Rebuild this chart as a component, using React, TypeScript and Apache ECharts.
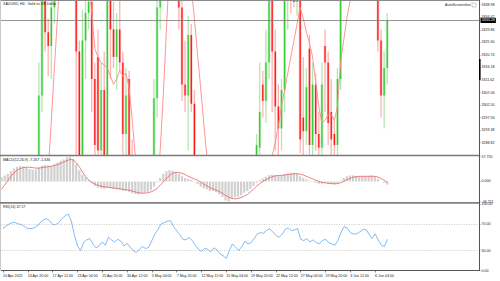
import React, { useEffect, useRef } from 'react';
import * as echarts from 'echarts';

// ---- tick labels ----
const tickLabels = [
  '10 Apr 2025', '14 Apr 20:00', '17 Apr 12:00', '23 Apr 04:00', '25 Apr 20:00', '30 Apr 12:00',
  '5 May 04:00', '7 May 20:00', '12 May 12:00', '15 May 04:00', '19 May 20:00', '22 May 12:00',
  '27 May 04:00', '29 May 20:00', '3 Jun 12:00', '6 Jun 04:00',
];
const priceTicks = [3338.98, 3334.42, 3329.86, 3325.30, 3320.74, 3316.18, 3311.62, 3307.06, 3302.50, 3297.94, 3293.38, 3288.82];
const macdTicks = [57.755, 0, -46.211];
const rsiTicks = [100, 70, 30, 0];
const rsiLevels = [70, 30];
const currentPrice = 3333.28;

// ---- price series (one bar per slot) ----
const opens = [
  3085, 3115, 3150, 3175, 3195, 3218, 3236, 3220, 3210, 3215, 3212, 3228, 3255, 3306, 3345, 3329, 3324, 3338, 3356, 3362,
  3378, 3372, 3424, 3485, 3400, 3322, 3268, 3326, 3336, 3340, 3312, 3320, 3286, 3308, 3282, 3343, 3330, 3320, 3330, 3318,
  3292, 3312, 3280, 3250, 3215, 3232, 3256, 3236, 3240, 3266, 3305, 3338, 3362, 3392, 3414, 3428, 3402, 3375, 3338, 3310,
  3306, 3328, 3303, 3272, 3248, 3232, 3250, 3248, 3218, 3245, 3236, 3192, 3178, 3140, 3200, 3240, 3218, 3180, 3200, 3240,
  3225, 3230, 3255, 3287, 3310, 3304, 3318, 3345, 3322, 3302, 3294, 3308, 3342, 3355, 3350, 3340, 3352, 3298, 3293, 3323,
  3288, 3310, 3292, 3287, 3324, 3318, 3300, 3292, 3288, 3312, 3355, 3378, 3382, 3358, 3352, 3362, 3356, 3378, 3372, 3390,
  3398, 3356, 3326, 3306, 3316,
];
const highs = [
  3120, 3160, 3180, 3200, 3222, 3240, 3245, 3232, 3225, 3232, 3235, 3262, 3318, 3352, 3358, 3334, 3346, 3362, 3370, 3385,
  3392, 3430, 3500, 3495, 3405, 3326, 3337, 3350, 3368, 3367, 3318, 3330, 3318, 3322, 3350, 3352, 3340, 3336, 3341, 3322,
  3316, 3315, 3290, 3262, 3240, 3262, 3262, 3248, 3272, 3312, 3345, 3368, 3400, 3420, 3438, 3435, 3418, 3385, 3345, 3326,
  3335, 3332, 3308, 3280, 3262, 3258, 3265, 3252, 3250, 3262, 3240, 3205, 3190, 3210, 3245, 3252, 3228, 3205, 3250, 3252,
  3240, 3262, 3292, 3318, 3315, 3330, 3348, 3348, 3330, 3310, 3312, 3350, 3360, 3366, 3362, 3360, 3355, 3320, 3316, 3328,
  3318, 3314, 3300, 3318, 3330, 3322, 3312, 3298, 3316, 3362, 3385, 3392, 3390, 3370, 3368, 3378, 3385, 3384, 3395, 3404,
  3400, 3365, 3330, 3322, 3336,
];
const lows = [
  3075, 3105, 3140, 3165, 3190, 3208, 3212, 3195, 3200, 3205, 3208, 3225, 3250, 3300, 3322, 3313, 3312, 3332, 3345, 3350,
  3360, 3368, 3418, 3390, 3262, 3258, 3262, 3312, 3330, 3300, 3276, 3268, 3280, 3270, 3276, 3312, 3316, 3308, 3315, 3278,
  3284, 3268, 3240, 3205, 3202, 3226, 3228, 3222, 3236, 3260, 3298, 3330, 3355, 3385, 3400, 3395, 3368, 3330, 3304, 3300,
  3286, 3300, 3262, 3240, 3226, 3228, 3240, 3210, 3212, 3230, 3185, 3172, 3120, 3135, 3195, 3210, 3170, 3172, 3195, 3215,
  3205, 3225, 3248, 3280, 3298, 3296, 3312, 3300, 3286, 3284, 3286, 3300, 3330, 3336, 3338, 3335, 3285, 3280, 3288, 3282,
  3284, 3286, 3280, 3282, 3300, 3288, 3284, 3282, 3280, 3308, 3350, 3365, 3350, 3345, 3342, 3350, 3352, 3360, 3365, 3380,
  3350, 3322, 3298, 3294, 3310,
];
const closes = [
  3115, 3150, 3175, 3195, 3218, 3236, 3220, 3210, 3215, 3212, 3228, 3255, 3306, 3345, 3329, 3324, 3338, 3356, 3362, 3378,
  3372, 3424, 3485, 3400, 3322, 3268, 3326, 3336, 3340, 3312, 3288, 3286, 3308, 3282, 3343, 3330, 3320, 3330, 3318, 3292,
  3306, 3280, 3250, 3215, 3232, 3256, 3236, 3240, 3266, 3305, 3338, 3362, 3392, 3414, 3428, 3402, 3375, 3338, 3310, 3306,
  3328, 3303, 3272, 3248, 3232, 3250, 3248, 3218, 3245, 3236, 3192, 3178, 3140, 3200, 3240, 3218, 3180, 3200, 3240, 3225,
  3230, 3255, 3288, 3300, 3304, 3318, 3345, 3322, 3302, 3294, 3308, 3342, 3355, 3348, 3340, 3352, 3290, 3293, 3309, 3288,
  3310, 3292, 3287, 3310, 3318, 3296, 3290, 3288, 3312, 3355, 3378, 3382, 3358, 3352, 3362, 3356, 3378, 3372, 3390, 3398,
  3356, 3326, 3306, 3316, 3333.28,
];
const movingAvg = [
  3040, 3060, 3085, 3110, 3135, 3158, 3178, 3192, 3202, 3209, 3214, 3220, 3232, 3246, 3260, 3278, 3297, 3316, 3335, 3353,
  3368, 3385, 3405, 3420, 3418, 3404, 3388, 3368, 3350, 3336, 3323, 3320, 3318, 3317, 3316, 3313, 3310, 3312, 3315, 3313,
  3314, 3309, 3297, 3284, 3270, 3258, 3250, 3246, 3248, 3258, 3272, 3286, 3306, 3330, 3352, 3370, 3382, 3385, 3380, 3368,
  3356, 3345, 3334, 3321, 3309, 3296, 3284, 3272, 3262, 3250, 3238, 3228, 3218, 3210, 3205, 3200, 3198, 3200, 3205, 3212,
  3222, 3234, 3246, 3257, 3266, 3273, 3279, 3284, 3289, 3295, 3302, 3308, 3314, 3320, 3326, 3332, 3338, 3334, 3329, 3325,
  3320, 3311, 3302, 3296, 3297, 3299, 3299, 3297, 3302, 3318, 3326, 3334, 3340, 3346, 3352, 3357, 3360, 3362, 3360, 3356,
  3352, 3348, 3345, 3343, 3342,
];

// ---- MACD(12,26,9) ----
const macdMain = [
  10, 14, 18, 24, 30, 34, 36, 35, 32, 29, 27, 28, 32, 37, 38, 37, 36, 40, 44, 48,
  51, 56, 57.755, 52, 40, 26, 16, 10, 3, -4, -10, -14, -16, -17, -15, -16, -18, -18, -19, -21,
  -22, -24, -27, -29, -30, -28, -26, -24, -20, -12, -2, 8, 18, 24, 26, 25, 22, 18, 12, 8,
  6, 4, 0, -6, -12, -16, -18, -22, -22, -25, -30, -36, -44, -46.211, -40, -36, -35, -32, -26, -22,
  -17, -10, -3, 3, 7, 11, 15, 16, 15, 14, 14, 17, 19, 20, 20, 18, 12, 8, 5, 2,
  -1, -3, -5, -5, -4, -5, -6, -7, -5, 2, 8, 12, 14, 14, 13, 12, 12, 12, 13, 14,
  11, 6, 0, -3, -7.267,
];
const macdSignal = [
  -18, -8, 2, 12, 20, 26, 30, 32, 33, 33, 32, 31, 31, 32, 33, 34, 35, 37, 39, 42,
  45, 48, 51, 50, 44, 34, 22, 12, 4, -2, -6, -9, -11, -12, -13, -14, -15, -16, -17, -18,
  -19, -20, -22, -24, -26, -27, -27, -26, -24, -21, -16, -9, -1, 7, 14, 19, 21, 21, 19, 16,
  12, 9, 6, 3, -1, -6, -10, -14, -17, -20, -23, -27, -32, -36, -39, -40, -39, -37, -34, -30,
  -24, -18, -11, -5, 0, 4, 8, 11, 13, 14, 14, 15, 16, 17, 18, 18, 17, 15, 12, 9,
  6, 3, 0, -2, -3, -4, -5, -5, -5, -3, 0, 4, 7, 10, 11, 12, 12, 12, 12, 12,
  12, 10, 7, 3, -1.636,
];

// ---- RSI(14) ----
const rsiValues = [
  63, 67, 70, 72, 72, 70, 69, 66, 63, 63, 64, 67, 72, 76, 78, 75, 69, 69, 72, 78,
  82, 85, 75, 54, 37, 30, 42, 46, 48, 40, 34, 37, 43, 38, 50, 46, 43, 47, 44, 37,
  41, 35, 30, 27, 32, 36, 33, 35, 45, 55, 62, 70, 72, 74, 75, 66, 60, 54, 47, 46,
  50, 45, 38, 32, 29, 33, 32, 28, 34, 31, 25, 22, 18, 30, 40, 35, 30, 36, 44, 40,
  42, 48, 55, 57, 56, 60, 63, 58, 53, 50, 54, 62, 64, 60, 61, 63, 47, 45, 48, 43,
  46, 42, 40, 45, 47, 42, 40, 38, 45, 57, 66, 64, 57, 55, 55, 58, 61, 62, 55, 48,
  55, 46, 38, 36, 47.17,
];

const SLOTS = 154;
const LABEL_EVERY = 8;
const FONT = 'Liberation Sans, Arial, sans-serif';
const FS = 3.6;
const TXT = '#1a1a1a';

const tickInterval = (idx: number) => idx % LABEL_EVERY === 0 && idx / LABEL_EVERY < tickLabels.length;

const renderCandle = (_params: any, api: any) => {
  const idx = api.value(0);
  const o = api.value(1);
  const c = api.value(2);
  const l = api.value(3);
  const h = api.value(4);
  const pO = api.coord([idx, o]);
  const pC = api.coord([idx, c]);
  const pL = api.coord([idx, l]);
  const pH = api.coord([idx, h]);
  const up = c >= o;
  const x = pO[0];
  const top = Math.min(pO[1], pC[1]);
  const hgt = Math.max(0.8, Math.abs(pO[1] - pC[1]));
  return {
    type: 'group',
    children: [
      { type: 'line', shape: { x1: x, y1: pH[1], x2: x, y2: pL[1] }, style: { stroke: up ? '#b2e7b2' : '#ffb2b2', lineWidth: 1.3 } },
      { type: 'rect', shape: { x: x - 1.5, y: top, width: 3, height: hgt }, style: { fill: up ? '#d2f2d2' : '#ffd4d4' } },
      { type: 'rect', shape: { x: x - 0.7, y: top, width: 1.4, height: hgt }, style: { fill: up ? '#36cc36' : '#ff1a1a' } },
    ],
  };
};

export default function App() {
  const ref = useRef<HTMLDivElement>(null);
  useEffect(() => {
    if (!ref.current) return;
    const chart = echarts.init(ref.current, null, { renderer: 'svg' });
    const slots = Array.from({ length: SLOTS }, (_, i) => String(i));
    const candleData = opens.map((o, i) => [i, o, closes[i], lows[i], highs[i]]);
    const mkY = (grid: number, min: number, max: number, ticks: number[], digits: number) => ({
      type: 'value',
      gridIndex: grid,
      position: 'right',
      min,
      max,
      axisLine: { show: false },
      axisTick: { show: true, length: 1.5, customValues: ticks, lineStyle: { color: '#555', width: 0.6 } },
      axisLabel: {
        customValues: ticks,
        formatter: (v: number) => v.toFixed(digits),
        fontSize: FS,
        fontFamily: FONT,
        color: TXT,
        margin: 2.5,
      },
      splitLine: { show: false },
    });
    const option: any = {
      animation: false,
      backgroundColor: '#ffffff',
      grid: [
        { left: 0, top: 0, width: 479, height: 155 },
        { left: 0, top: 156.5, width: 479, height: 45 },
        { left: 0, top: 204, width: 479, height: 66.5 },
      ],
      xAxis: [0, 1, 2].map((g) => ({
        type: 'category',
        gridIndex: g,
        data: slots,
        boundaryGap: true,
        axisLine: { show: g === 2, lineStyle: { color: '#555', width: 1 } },
        axisTick: { show: g === 2, alignWithLabel: true, interval: tickInterval, length: 2, lineStyle: { color: '#555', width: 0.7 } },
        axisLabel: {
          show: g === 2,
          interval: tickInterval,
          formatter: (_v: string, idx: number) => tickLabels[idx / LABEL_EVERY] ?? '',
          align: 'left',
          fontSize: FS,
          fontFamily: FONT,
          color: TXT,
          margin: 3,
        },
        splitLine: { show: false },
      })),
      yAxis: [
        mkY(0, 3284.35, 3340.69, priceTicks, 2),
        mkY(1, -46.211, 57.755, macdTicks, 3),
        mkY(2, 0, 100, rsiTicks, 2),
      ],
      series: [
        {
          type: 'custom',
          name: 'XAUUSD',
          xAxisIndex: 0,
          yAxisIndex: 0,
          clip: true,
          data: candleData,
          encode: { x: 0, y: [1, 2, 3, 4] },
          renderItem: renderCandle,
        },
        {
          type: 'line',
          name: 'MA',
          xAxisIndex: 0,
          yAxisIndex: 0,
          data: movingAvg,
          symbol: 'none',
          clip: true,
          lineStyle: { color: '#ff8a8a', width: 0.9 },
          markLine: {
            silent: true,
            symbol: ['none', 'none'],
            lineStyle: { color: '#7a7a7a', width: 0.8, type: 'solid' },
            label: {
              show: true,
              position: 'end',
              distance: 1.5,
              formatter: () => currentPrice.toFixed(2),
              backgroundColor: '#000',
              color: '#fff',
              fontSize: FS,
              fontFamily: FONT,
              padding: [0.6, 1.2, 0.6, 1.2],
            },
            data: [{ yAxis: currentPrice }],
          },
        },
        {
          type: 'bar',
          name: 'MACD',
          xAxisIndex: 1,
          yAxisIndex: 1,
          data: macdMain,
          barWidth: 2.2,
          itemStyle: { color: '#d0d0d0' },
        },
        {
          type: 'line',
          name: 'Signal',
          xAxisIndex: 1,
          yAxisIndex: 1,
          data: macdSignal,
          symbol: 'none',
          lineStyle: { color: '#f06060', width: 0.8 },
        },
        {
          type: 'line',
          name: 'RSI',
          xAxisIndex: 2,
          yAxisIndex: 2,
          data: rsiValues,
          symbol: 'none',
          lineStyle: { color: '#62aaf0', width: 0.8 },
          markLine: {
            silent: true,
            symbol: ['none', 'none'],
            label: { show: false },
            lineStyle: { color: '#a8a8a8', width: 0.6, type: [1, 1.5] },
            data: rsiLevels.map((v) => ({ yAxis: v })),
          },
        },
      ],
      graphic: [
        { type: 'line', z: 100, shape: { x1: 0, y1: 0.5, x2: 479, y2: 0.5 }, style: { stroke: '#8a8a8a', lineWidth: 1 } },
        { type: 'line', z: 100, shape: { x1: 0.5, y1: 0, x2: 0.5, y2: 270.5 }, style: { stroke: '#c8c8c8', lineWidth: 1 } },
        { type: 'line', z: 100, shape: { x1: 0, y1: 155.6, x2: 479, y2: 155.6 }, style: { stroke: '#7a7a7a', lineWidth: 1.5 } },
        { type: 'line', z: 100, shape: { x1: 0, y1: 202.8, x2: 479, y2: 202.8 }, style: { stroke: '#808080', lineWidth: 1.8 } },
        { type: 'line', z: 100, shape: { x1: 479.5, y1: 0, x2: 479.5, y2: 271 }, style: { stroke: '#555', lineWidth: 1 } },
        { type: 'rect', z: 101, shape: { x: 479, y: 59, width: 1.6, height: 21 }, style: { fill: '#000' } },
        {
          type: 'text', z: 100, x: 3, y: 4.4,
          style: { text: 'XAUUSD, H4:  Gold vs US Dollar', font: `${FS}px ${FONT}`, fill: TXT, verticalAlign: 'middle' },
        },
        {
          type: 'text', z: 100, x: 445, y: 5,
          style: { text: 'AutoScreenshot', font: `${FS}px ${FONT}`, fill: TXT, verticalAlign: 'middle' },
        },
        { type: 'rect', z: 100, shape: { x: 472, y: 3, width: 4, height: 4 }, style: { fill: '#fff', stroke: '#aaa', lineWidth: 0.6 } },
        {
          type: 'text', z: 100, x: 3, y: 159.8,
          style: { text: 'MACD(12,26,9) -7.267 -1.636', font: `${FS}px ${FONT}`, fill: TXT, verticalAlign: 'middle' },
        },
        {
          type: 'text', z: 100, x: 3, y: 207,
          style: { text: 'RSI(14) 47.17', font: `${FS}px ${FONT}`, fill: TXT, verticalAlign: 'middle' },
        },
      ],
    };
    chart.setOption(option);
    return () => chart.dispose();
  }, []);
  return <div ref={ref} style={{ position: 'fixed', left: 0, top: 0, width: 500, height: 281, background: '#fff' }} />;
}
